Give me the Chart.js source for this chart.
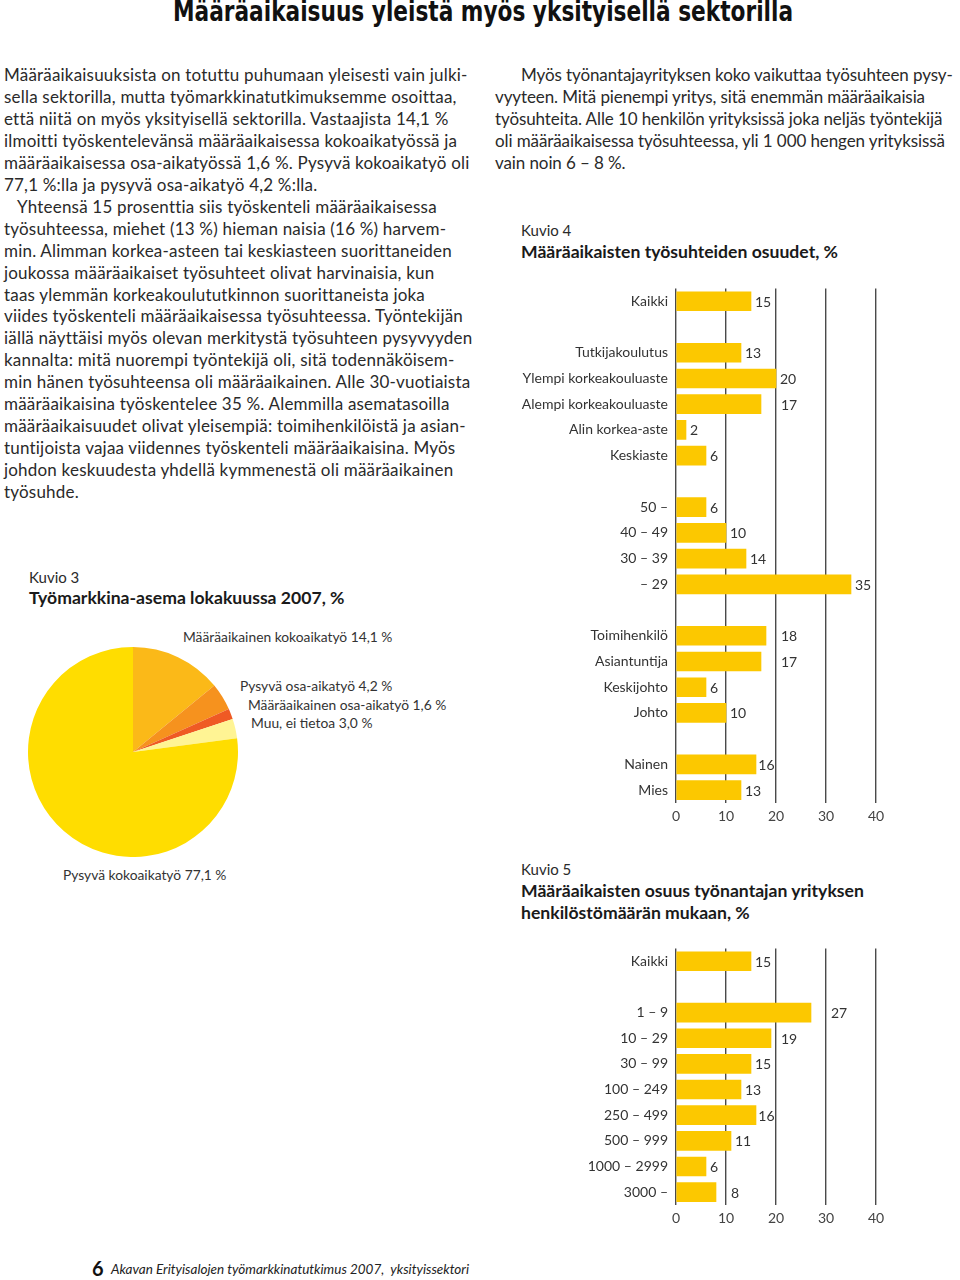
<!DOCTYPE html>
<html><head><meta charset="utf-8">
<script src="https://cdn.jsdelivr.net/npm/chart.js@4.4.1/dist/chart.umd.min.js"></script>
<style>
html,body{margin:0;padding:0;background:#fff;}
#page{position:relative;width:960px;height:1280px;overflow:hidden;font-family:Lato,"Open Sans",sans-serif;color:#2a2a2a;}
.ln{position:absolute;white-space:nowrap;line-height:22px;height:22px;font-size:17px;letter-spacing:0.2px;}
.ln.r{letter-spacing:-0.1px;}
.abs{position:absolute;white-space:nowrap;}
#title{position:absolute;top:-6px;left:0;white-space:nowrap;font-family:"Liberation Sans Narrow","DejaVu Sans Condensed",sans-serif;font-weight:bold;font-size:28px;color:#111;transform-origin:0 50%;line-height:36px;}
.kn{font-size:15px;line-height:20px;}
.kt{font-size:17.6px;font-weight:bold;line-height:22px;color:#1a1a1a;}
.pl{font-size:13.8px;line-height:18px;color:#333;}
canvas{position:absolute;}
</style>
</head><body>
<div id="page">
  <div id="title">Määräaikaisuus yleistä myös yksityisellä sektorilla</div>

  <div class="abs kn" style="left:29px;top:567px;">Kuvio 3</div>
  <div class="abs kt" style="left:29px;top:587px;">Työmarkkina-asema lokakuussa 2007, %</div>

  <div class="abs kn" style="left:521px;top:220px;">Kuvio 4</div>
  <div class="abs kt" style="left:521px;top:241px;">Määräaikaisten työsuhteiden osuudet, %</div>

  <div class="abs kn" style="left:521px;top:859px;">Kuvio 5</div>
  <div class="abs kt" style="left:521px;top:880px;">Määräaikaisten osuus työnantajan yrityksen</div>
  <div class="abs kt" style="left:521px;top:902px;">henkilöstömäärän mukaan, %</div>

  <div class="abs" style="left:92px;top:1256px;font-size:20px;font-weight:bold;color:#111;line-height:24px;">6</div>
  <div class="abs" style="left:111px;top:1259px;font-size:13.5px;font-style:italic;color:#222;line-height:20px;">Akavan Erityisalojen työmarkkinatutkimus 2007,&nbsp; yksityissektori</div>

  <canvas id="pie" width="210" height="210" style="left:28px;top:647px;width:210px;height:210px;"></canvas>
  <canvas id="bar1" width="460" height="568" style="left:500px;top:272px;width:460px;height:568px;"></canvas>
  <canvas id="bar2" width="460" height="310" style="left:500px;top:932px;width:460px;height:310px;"></canvas>
</div>
<script>
// ---------- DATA ----------
const pieLabels = ['Määräaikainen kokoaikatyö','Pysyvä osa-aikatyö','Määräaikainen osa-aikatyö','Muu, ei tietoa','Pysyvä kokoaikatyö'];
const pieValues = [14.1, 4.2, 1.6, 3.0, 77.1];
const pieColors = ['#FBB918','#F6921E','#EF5A24','#FFF494','#FFDD00'];

const kuvio4Labels = ['Kaikki','', 'Tutkijakoulutus','Ylempi korkeakouluaste','Alempi korkeakouluaste','Alin korkea-aste','Keskiaste','',
  '50 –','40 – 49','30 – 39','– 29','', 'Toimihenkilö','Asiantuntija','Keskijohto','Johto','', 'Nainen','Mies'];
const kuvio4Values = [15,null, 13,20,17,2,6,null, 6,10,14,35,null, 18,17,6,10,null, 16,13];

const kuvio5Labels = ['Kaikki','', '1 – 9','10 – 29','30 – 99','100 – 249','250 – 499','500 – 999','1000 – 2999','3000 –'];
const kuvio5Values = [15,null, 27,19,15,13,16,11,6,8];

const xTicks = [0,10,20,30,40];

const leftText = [
 'Määräaikaisuuksista on totuttu puhumaan yleisesti vain julki-',
 'sella sektorilla, mutta työmarkkinatutkimuksemme osoittaa,',
 'että niitä on myös yksityisellä sektorilla. Vastaajista 14,1 %',
 'ilmoitti työskentelevänsä määräaikaisessa kokoaikatyössä ja',
 'määräaikaisessa osa-aikatyössä 1,6 %. Pysyvä kokoaikatyö oli',
 '77,1 %:lla ja pysyvä osa-aikatyö 4,2 %:lla.',
 '\u2003Yhteensä 15 prosenttia siis työskenteli määräaikaisessa',
 'työsuhteessa, miehet (13 %) hieman naisia (16 %) harvem-',
 'min. Alimman korkea-asteen tai keskiasteen suorittaneiden',
 'joukossa määräaikaiset työsuhteet olivat harvinaisia, kun',
 'taas ylemmän korkeakoulututkinnon suorittaneista joka',
 'viides työskenteli määräaikaisessa työsuhteessa. Työntekijän',
 'iällä näyttäisi myös olevan merkitystä työsuhteen pysyvyyden',
 'kannalta: mitä nuorempi työntekijä oli, sitä todennäköisem-',
 'min hänen työsuhteensa oli määräaikainen. Alle 30-vuotiaista',
 'määräaikaisina työskentelee 35 %. Alemmilla asematasoilla',
 'määräaikaisuudet olivat yleisempiä: toimihenkilöistä ja asian-',
 'tuntijoista vajaa viidennes työskenteli määräaikaisina. Myös',
 'johdon keskuudesta yhdellä kymmenestä oli määräaikainen',
 'työsuhde.'
];
const rightText = [
 'Myös työnantajayrityksen koko vaikuttaa työsuhteen pysy-',
 'vyyteen. Mitä pienempi yritys, sitä enemmän määräaikaisia',
 'työsuhteita. Alle 10 henkilön yrityksissä joka neljäs työntekijä',
 'oli määräaikaisessa työsuhteessa, yli 1 000 hengen yrityksissä',
 'vain noin 6 – 8 %.'
];

// ---------- TEXT ----------
const page = document.getElementById('page');
function addLines(lines, left, top0, step, firstIndent, cls){
  lines.forEach((t,i)=>{
    const d=document.createElement('div'); d.className='ln'+(cls?' '+cls:'');
    d.style.left=(left+(i===0?firstIndent:0))+'px'; d.style.top=(top0+i*step)+'px';
    d.textContent=t; page.appendChild(d);
  });
}
addLines(leftText, 4, 64, 21.95, 0, '');
addLines(rightText, 495, 64, 22, 26, 'r');

// fit title to width
const title=document.getElementById('title');
const tw=title.getBoundingClientRect().width;
title.style.transform='scaleX('+(620/tw)+')';
title.style.left='173px';

// pie labels
const piePos = [[183,628],[240,677],[248,696],[251,714],[63,866]];
pieLabels.forEach((l,i)=>{
  const d=document.createElement('div'); d.className='abs pl';
  d.style.left=piePos[i][0]+'px'; d.style.top=piePos[i][1]+'px';
  d.textContent=l+' '+pieValues[i].toFixed(1).replace('.',',')+' %';
  page.appendChild(d);
});

// ---------- CHARTS ----------
Chart.defaults.font.family='Lato, "Open Sans", sans-serif';
Chart.defaults.color='#333';
Chart.defaults.animation=false;

new Chart(document.getElementById('pie'),{
  type:'pie',
  data:{labels:pieLabels,datasets:[{data:pieValues,backgroundColor:pieColors,borderWidth:0}]},
  options:{responsive:false,devicePixelRatio:1,plugins:{legend:{display:false},tooltip:{enabled:false}},layout:{padding:0}}
});

const valueLabels={
  id:'valueLabels',
  afterDatasetsDraw(chart){
    const ctx=chart.ctx, meta=chart.getDatasetMeta(0), xs=chart.scales.x;
    const grids=xTicks.map(v=>xs.getPixelForValue(v)).filter(p=>p>xs.left+1);
    ctx.save(); ctx.font='14px Lato, "Open Sans", sans-serif'; ctx.fillStyle='#333'; ctx.textBaseline='middle'; ctx.textAlign='left';
    meta.data.forEach((bar,i)=>{
      const v=chart.data.datasets[0].data[i]; if(v==null) return;
      const txt=String(v), w=ctx.measureText(txt).width;
      let x=bar.x+4;
      for(const g of grids){
        if(g>=x-3 && g<=x+w+1){
          const over=x+w+1-g;
          const back=g-w-1.5;
          if(over<=4 && back>=bar.x+1.5){ x=back; } else { x=g+5; }
        }
      }
      ctx.fillText(txt,x,bar.y+1);
    });
    ctx.restore();
  }
};

function barChart(id, labels, values){
  return new Chart(document.getElementById(id),{
    type:'bar',
    data:{labels:labels,datasets:[{data:values,backgroundColor:'#FCC800',borderWidth:0,barThickness:19}]},
    options:{
      indexAxis:'y',responsive:false,devicePixelRatio:1,
      layout:{padding:{top:8,right:84,left:0,bottom:0}},
      plugins:{legend:{display:false},tooltip:{enabled:false}},
      scales:{
        x:{min:0,max:40,
           afterBuildTicks(s){s.ticks=xTicks.map(v=>({value:v}));},
           afterFit(s){s.height=37;},
           ticks:{padding:5,font:{size:14},color:'#444'},
           grid:{color:'#4a4a4a',lineWidth:1.4,drawTicks:false},
           border:{display:false}},
        y:{afterFit(s){s.width=176;},
           ticks:{padding:8,font:{size:14},color:'#333',autoSkip:false},
           grid:{display:false,drawTicks:false},
           border:{display:false}}
      }
    },
    plugins:[valueLabels]
  });
}
barChart('bar1', kuvio4Labels, kuvio4Values);
barChart('bar2', kuvio5Labels, kuvio5Values);
</script>
</body></html>
